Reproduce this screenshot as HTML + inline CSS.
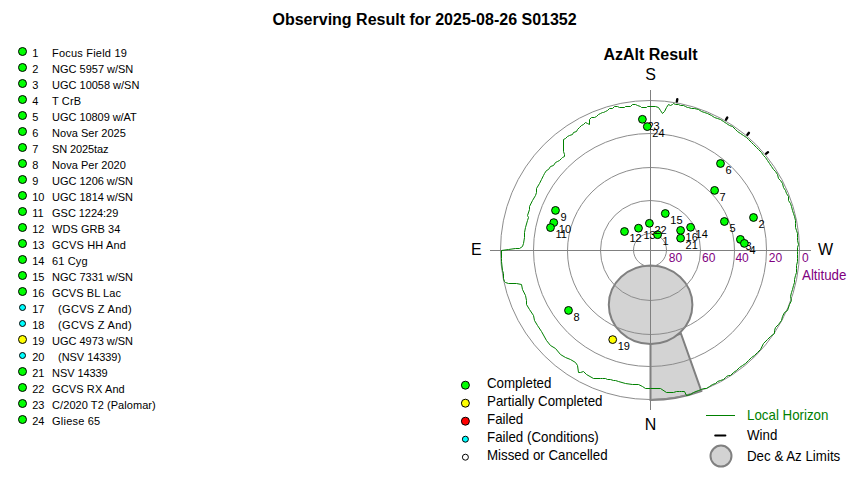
<!DOCTYPE html><html><head><meta charset="utf-8"><style>html,body{margin:0;padding:0;background:#fff;}svg{display:block;}text{font-family:"Liberation Sans",sans-serif;}</style></head><body>
<svg width="850" height="480" viewBox="0 0 850 480">
<rect width="850" height="480" fill="#fff"/>
<text x="272.5" y="25" font-size="16" font-weight="bold" fill="#000">Observing Result for 2025-08-26 S01352</text>
<circle cx="22.5" cy="51.5" r="4.0" fill="#00ff00" stroke="#000" stroke-width="1"/>
<text x="32.2" y="57" font-size="11" fill="#000">1</text>
<text x="52.1" y="57" font-size="11" letter-spacing="0.200" fill="#000">Focus Field 19</text>
<circle cx="22.5" cy="67.5" r="4.0" fill="#00ff00" stroke="#000" stroke-width="1"/>
<text x="32.2" y="73" font-size="11" fill="#000">2</text>
<text x="52.1" y="73" font-size="11" letter-spacing="-0.008" fill="#000">NGC 5957 w/SN</text>
<circle cx="22.5" cy="83.5" r="4.0" fill="#00ff00" stroke="#000" stroke-width="1"/>
<text x="32.2" y="89" font-size="11" fill="#000">3</text>
<text x="52.1" y="89" font-size="11" letter-spacing="-0.015" fill="#000">UGC 10058 w/SN</text>
<circle cx="22.5" cy="99.5" r="4.0" fill="#00ff00" stroke="#000" stroke-width="1"/>
<text x="32.2" y="105" font-size="11" fill="#000">4</text>
<text x="52.1" y="105" font-size="11" letter-spacing="0.100" fill="#000">T CrB</text>
<circle cx="22.5" cy="115.5" r="4.0" fill="#00ff00" stroke="#000" stroke-width="1"/>
<text x="32.2" y="121" font-size="11" fill="#000">5</text>
<text x="52.1" y="121" font-size="11" letter-spacing="-0.054" fill="#000">UGC 10809 w/AT</text>
<circle cx="22.5" cy="131.5" r="4.0" fill="#00ff00" stroke="#000" stroke-width="1"/>
<text x="32.2" y="137" font-size="11" fill="#000">6</text>
<text x="52.1" y="137" font-size="11" letter-spacing="0.033" fill="#000">Nova Ser 2025</text>
<circle cx="22.5" cy="147.5" r="4.0" fill="#00ff00" stroke="#000" stroke-width="1"/>
<text x="32.2" y="153" font-size="11" fill="#000">7</text>
<text x="52.1" y="153" font-size="11" letter-spacing="-0.133" fill="#000">SN 2025taz</text>
<circle cx="22.5" cy="163.5" r="4.0" fill="#00ff00" stroke="#000" stroke-width="1"/>
<text x="32.2" y="169" font-size="11" fill="#000">8</text>
<text x="52.1" y="169" font-size="11" letter-spacing="0.033" fill="#000">Nova Per 2020</text>
<circle cx="22.5" cy="179.5" r="4.0" fill="#00ff00" stroke="#000" stroke-width="1"/>
<text x="32.2" y="185" font-size="11" fill="#000">9</text>
<text x="52.1" y="185" font-size="11" letter-spacing="-0.033" fill="#000">UGC 1206 w/SN</text>
<circle cx="22.5" cy="195.5" r="4.0" fill="#00ff00" stroke="#000" stroke-width="1"/>
<text x="32.2" y="201" font-size="11" fill="#000">10</text>
<text x="52.1" y="201" font-size="11" letter-spacing="-0.033" fill="#000">UGC 1814 w/SN</text>
<circle cx="22.5" cy="211.5" r="4.0" fill="#00ff00" stroke="#000" stroke-width="1"/>
<text x="32.2" y="217" font-size="11" fill="#000">11</text>
<text x="52.1" y="217" font-size="11" letter-spacing="-0.050" fill="#000">GSC 1224:29</text>
<circle cx="22.5" cy="227.5" r="4.0" fill="#00ff00" stroke="#000" stroke-width="1"/>
<text x="32.2" y="233" font-size="11" fill="#000">12</text>
<text x="52.1" y="233" font-size="11" letter-spacing="0.044" fill="#000">WDS GRB 34</text>
<circle cx="22.5" cy="243.5" r="4.0" fill="#00ff00" stroke="#000" stroke-width="1"/>
<text x="32.2" y="249" font-size="11" fill="#000">13</text>
<text x="52.1" y="249" font-size="11" letter-spacing="0.170" fill="#000">GCVS HH And</text>
<circle cx="22.5" cy="259.5" r="4.0" fill="#00ff00" stroke="#000" stroke-width="1"/>
<text x="32.2" y="265" font-size="11" fill="#000">14</text>
<text x="52.1" y="265" font-size="11" letter-spacing="0.120" fill="#000">61 Cyg</text>
<circle cx="22.5" cy="275.5" r="4.0" fill="#00ff00" stroke="#000" stroke-width="1"/>
<text x="32.2" y="281" font-size="11" fill="#000">15</text>
<text x="52.1" y="281" font-size="11" letter-spacing="-0.033" fill="#000">NGC 7331 w/SN</text>
<circle cx="22.5" cy="291.5" r="4.0" fill="#00ff00" stroke="#000" stroke-width="1"/>
<text x="32.2" y="297" font-size="11" fill="#000">16</text>
<text x="52.1" y="297" font-size="11" letter-spacing="0.080" fill="#000">GCVS BL Lac</text>
<circle cx="22.5" cy="307.5" r="3.0" fill="#00ffff" stroke="#000" stroke-width="1"/>
<text x="32.2" y="313" font-size="11" fill="#000">17</text>
<text x="58.1" y="313" font-size="11" letter-spacing="0.300" fill="#000">(GCVS Z And)</text>
<circle cx="22.5" cy="323.5" r="3.0" fill="#00ffff" stroke="#000" stroke-width="1"/>
<text x="32.2" y="329" font-size="11" fill="#000">18</text>
<text x="58.1" y="329" font-size="11" letter-spacing="0.300" fill="#000">(GCVS Z And)</text>
<circle cx="22.5" cy="339.5" r="4.0" fill="#ffff00" stroke="#000" stroke-width="1"/>
<text x="32.2" y="345" font-size="11" fill="#000">19</text>
<text x="52.1" y="345" font-size="11" letter-spacing="-0.033" fill="#000">UGC 4973 w/SN</text>
<circle cx="22.5" cy="355.5" r="3.0" fill="#00ffff" stroke="#000" stroke-width="1"/>
<text x="32.2" y="361" font-size="11" fill="#000">20</text>
<text x="58.1" y="361" font-size="11" letter-spacing="-0.060" fill="#000">(NSV 14339)</text>
<circle cx="22.5" cy="371.5" r="4.0" fill="#00ff00" stroke="#000" stroke-width="1"/>
<text x="32.2" y="377" font-size="11" fill="#000">21</text>
<text x="52.1" y="377" font-size="11" letter-spacing="-0.088" fill="#000">NSV 14339</text>
<circle cx="22.5" cy="387.5" r="4.0" fill="#00ff00" stroke="#000" stroke-width="1"/>
<text x="32.2" y="393" font-size="11" fill="#000">22</text>
<text x="52.1" y="393" font-size="11" letter-spacing="0.110" fill="#000">GCVS RX And</text>
<circle cx="22.5" cy="403.5" r="4.0" fill="#00ff00" stroke="#000" stroke-width="1"/>
<text x="32.2" y="409" font-size="11" fill="#000">23</text>
<text x="52.1" y="409" font-size="11" letter-spacing="0.061" fill="#000">C/2020 T2 (Palomar)</text>
<circle cx="22.5" cy="419.5" r="4.0" fill="#00ff00" stroke="#000" stroke-width="1"/>
<text x="32.2" y="425" font-size="11" fill="#000">24</text>
<text x="52.1" y="425" font-size="11" letter-spacing="0.200" fill="#000">Gliese 65</text>
<text x="650.5" y="59.7" font-size="16" font-weight="bold" text-anchor="middle" fill="#000">AzAlt Result</text>
<path d="M650.5,344 L650.5,400 A150,150 0 0 0 701.3,391 L680.9,333.5 Z" fill="#d3d3d3" stroke="#808080" stroke-width="2"/>
<ellipse cx="650.6" cy="304.75" rx="41.8" ry="39.3" fill="#d3d3d3" stroke="#808080" stroke-width="2"/>
<circle cx="650" cy="250" r="16.5" fill="none" stroke="#8c8c8c" stroke-width="1"/>
<circle cx="650.5" cy="250.5" r="50" fill="none" stroke="#8c8c8c" stroke-width="1"/>
<circle cx="651" cy="251" r="83.5" fill="none" stroke="#8c8c8c" stroke-width="1"/>
<circle cx="650" cy="250" r="116.5" fill="none" stroke="#8c8c8c" stroke-width="1"/>
<circle cx="650" cy="250" r="149.5" fill="none" stroke="#8c8c8c" stroke-width="1"/>
<line x1="490" y1="250.5" x2="811" y2="250.5" stroke="#808080" stroke-width="1"/>
<line x1="650.5" y1="90" x2="650.5" y2="410" stroke="#808080" stroke-width="1"/>
<polyline fill="none" stroke="#008000" stroke-width="1" stroke-linejoin="round" points="501.5,250.5 501.5,258.5 501.5,261.5 502.5,270.5 503.5,273.5 503.5,278.5 504.5,281.5 505.5,282.5 508.5,283.5 516.5,283.5 521.5,284.5 522.5,289.5 525.5,295.5 526.5,300.5 526.5,304.5 529.5,309.5 533.5,315.5 534.5,320.5 537.5,325.5 541.5,331.5 546.5,340.5 550.5,345.5 555.5,348.5 560.5,354.5 565.5,357.5 570.5,359.5 575.5,362.5 577.5,365.5 578.5,372.5 580.5,372.5 583.5,371.5 586.5,374.5 593.5,378.5 600.5,378.5 602.5,378.5 605.5,378.5 607.5,379.5 610.5,379.5 613.5,380.5 615.5,380.5 618.5,381.5 625.5,383.5 632.5,384.5 638.5,384.5 642.5,386.5 645.5,388.5 650.5,388.5 660.5,388.5 666.5,392.5 673.5,392.5 676.5,391.5 679.5,391.5 681.5,391.5 684.5,391.5 686.5,395.5 690.5,394.5 693.5,392.5 698.5,390.5 701.5,389.5 703.5,388.5 706.5,388.5 709.5,386.5 712.5,384.5 715.5,383.5 717.5,381.5 720.5,380.5 723.5,379.5 725.5,377.5 726.5,376.5 728.5,375.5 730.5,375.5 733.5,372.5 736.5,370.5 739.5,367.5 742.5,365.5 745.5,363.5 748.5,360.5 751.5,357.5 754.5,355.5 757.5,352.5 760.5,349.5 763.5,343.5 767.5,339.5 770.5,336.5 774.5,333.5 774.5,330.5 775.5,327.5 778.5,324.5 781.5,320.5 782.5,316.5 784.5,312.5 787.5,310.5 789.5,304.5 791.5,300.5 790.5,296.5 791.5,292.5 792.5,289.5 793.5,285.5 794.5,282.5 794.5,279.5 795.5,275.5 796.5,272.5 796.5,268.5 796.5,265.5 797.5,261.5 797.5,258.5 797.5,254.5 797.5,251.5 797.5,247.5 798.5,244.5 797.5,240.5 797.5,237.5 797.5,233.5 796.5,230.5 795.5,227.5 795.5,223.5 795.5,220.5 794.5,216.5 793.5,213.5 792.5,210.5 791.5,206.5 790.5,203.5 788.5,200.5 788.5,196.5 786.5,193.5 785.5,190.5 783.5,187.5 782.5,183.5 780.5,180.5 778.5,178.5 777.5,174.5 775.5,171.5 773.5,169.5 771.5,166.5 769.5,163.5 767.5,160.5 765.5,157.5 763.5,155.5 761.5,152.5 758.5,149.5 756.5,147.5 753.5,144.5 751.5,142.5 748.5,139.5 746.5,137.5 743.5,135.5 740.5,133.5 737.5,131.5 735.5,129.5 732.5,126.5 729.5,125.5 726.5,123.5 723.5,121.5 720.5,119.5 717.5,118.5 714.5,117.5 711.5,115.5 707.5,113.5 704.5,112.5 701.5,111.5 698.5,109.5 694.5,108.5 691.5,108.5 688.5,107.5 687.5,107.5 685.5,106.5 683.5,105.5 680.5,105.5 678.5,104.5 675.5,104.5 673.5,103.5 672.5,104.5 670.5,105.5 668.5,104.5 666.5,107.5 664.5,111.5 662.5,113.5 660.5,110.5 658.5,107.5 655.5,106.5 647.5,106.5 646.5,107.5 641.5,107.5 640.5,106.5 637.5,105.5 635.5,104.5 632.5,104.5 630.5,106.5 625.5,106.5 624.5,107.5 619.5,107.5 617.5,106.5 614.5,106.5 612.5,108.5 609.5,108.5 607.5,110.5 605.5,111.5 603.5,112.5 602.5,112.5 600.5,113.5 598.5,114.5 596.5,116.5 594.5,117.5 591.5,117.5 589.5,119.5 589.5,124.5 587.5,123.5 585.5,122.5 583.5,124.5 581.5,125.5 579.5,127.5 577.5,129.5 576.5,131.5 573.5,132.5 572.5,134.5 569.5,135.5 567.5,136.5 565.5,138.5 563.5,139.5 563.5,151.5 564.5,154.5 564.5,156.5 562.5,157.5 561.5,158.5 559.5,160.5 557.5,161.5 555.5,162.5 553.5,165.5 550.5,166.5 548.5,169.5 546.5,170.5 544.5,173.5 543.5,175.5 541.5,179.5 539.5,183.5 536.5,188.5 536.5,192.5 535.5,195.5 532.5,200.5 529.5,206.5 529.5,209.5 527.5,215.5 528.5,217.5 527.5,220.5 525.5,227.5 524.5,232.5 524.5,237.5 523.5,243.5 522.5,246.5 519.5,248.5 515.5,248.5 508.5,249.5 501.5,250.5"/>
<line x1="676.87" y1="101.51" x2="677.30" y2="99.15" stroke="#000" stroke-width="2.4" stroke-linecap="round"/>
<line x1="726.03" y1="119.66" x2="727.24" y2="117.58" stroke="#000" stroke-width="2.4" stroke-linecap="round"/>
<line x1="747.37" y1="134.71" x2="748.91" y2="132.88" stroke="#000" stroke-width="2.4" stroke-linecap="round"/>
<line x1="766.17" y1="153.69" x2="768.02" y2="152.16" stroke="#000" stroke-width="2.4" stroke-linecap="round"/>
<text x="650.5" y="79.6" font-size="16" text-anchor="middle" fill="#000">S</text>
<text x="650.5" y="429.8" font-size="16" text-anchor="middle" fill="#000">N</text>
<text x="471" y="255" font-size="16" fill="#000">E</text>
<text x="818" y="254.6" font-size="16" fill="#000">W</text>
<text x="668.8" y="261.7" font-size="12" fill="#800080">80</text>
<text x="702.1" y="261.7" font-size="12" fill="#800080">60</text>
<text x="735.4" y="261.7" font-size="12" fill="#800080">40</text>
<text x="768.8" y="261.7" font-size="12" fill="#800080">20</text>
<text x="802.1" y="261.7" font-size="12" fill="#800080">0</text>
<text transform="translate(802,280.3) scale(1,1.08)" font-size="13.33" fill="#800080">Altitude</text>
<circle cx="753.5" cy="217.5" r="3.9" fill="#00ff00" stroke="#000" stroke-width="1"/>
<text x="758.5" y="228.0" font-size="11" fill="#000">2</text>
<circle cx="740.4" cy="239.4" r="3.9" fill="#00ff00" stroke="#000" stroke-width="1"/>
<text x="745.4" y="249.9" font-size="11" fill="#000">3</text>
<circle cx="744.4" cy="243.4" r="3.9" fill="#00ff00" stroke="#000" stroke-width="1"/>
<text x="749.4" y="253.9" font-size="11" fill="#000">4</text>
<circle cx="724.4" cy="221.5" r="3.9" fill="#00ff00" stroke="#000" stroke-width="1"/>
<text x="729.4" y="232.0" font-size="11" fill="#000">5</text>
<circle cx="720.5" cy="163.5" r="3.9" fill="#00ff00" stroke="#000" stroke-width="1"/>
<text x="725.5" y="174.0" font-size="11" fill="#000">6</text>
<circle cx="714.6" cy="190.4" r="3.9" fill="#00ff00" stroke="#000" stroke-width="1"/>
<text x="719.6" y="200.9" font-size="11" fill="#000">7</text>
<circle cx="568.5" cy="310.4" r="3.9" fill="#00ff00" stroke="#000" stroke-width="1"/>
<text x="573.5" y="320.9" font-size="11" fill="#000">8</text>
<circle cx="555.5" cy="210.4" r="3.9" fill="#00ff00" stroke="#000" stroke-width="1"/>
<text x="560.5" y="220.9" font-size="11" fill="#000">9</text>
<circle cx="553.75" cy="222.6" r="3.9" fill="#00ff00" stroke="#000" stroke-width="1"/>
<text x="558.8" y="233.1" font-size="11" fill="#000">10</text>
<circle cx="550.5" cy="227.6" r="3.9" fill="#00ff00" stroke="#000" stroke-width="1"/>
<text x="555.5" y="238.1" font-size="11" fill="#000">11</text>
<circle cx="624.5" cy="231.5" r="3.9" fill="#00ff00" stroke="#000" stroke-width="1"/>
<text x="629.5" y="242.0" font-size="11" fill="#000">12</text>
<circle cx="638.5" cy="228.2" r="3.9" fill="#00ff00" stroke="#000" stroke-width="1"/>
<text x="643.5" y="238.7" font-size="11" fill="#000">13</text>
<circle cx="690.6" cy="227.3" r="3.9" fill="#00ff00" stroke="#000" stroke-width="1"/>
<text x="695.6" y="237.8" font-size="11" fill="#000">14</text>
<circle cx="665.3" cy="213.5" r="3.9" fill="#00ff00" stroke="#000" stroke-width="1"/>
<text x="670.3" y="224.0" font-size="11" fill="#000">15</text>
<circle cx="680.6" cy="230.4" r="3.9" fill="#00ff00" stroke="#000" stroke-width="1"/>
<text x="685.6" y="240.9" font-size="11" fill="#000">16</text>
<circle cx="612.7" cy="339.6" r="3.9" fill="#ffff00" stroke="#000" stroke-width="1"/>
<text x="617.7" y="350.1" font-size="11" fill="#000">19</text>
<circle cx="680.6" cy="238.2" r="3.9" fill="#00ff00" stroke="#000" stroke-width="1"/>
<text x="685.6" y="248.7" font-size="11" fill="#000">21</text>
<circle cx="657.6" cy="234.7" r="3.9" fill="#00ff00" stroke="#000" stroke-width="1"/>
<text x="662.6" y="245.2" font-size="11" fill="#000">1</text>
<circle cx="649.4" cy="223.3" r="3.9" fill="#00ff00" stroke="#000" stroke-width="1"/>
<text x="654.4" y="233.8" font-size="11" fill="#000">22</text>
<circle cx="642.4" cy="119.3" r="3.9" fill="#00ff00" stroke="#000" stroke-width="1"/>
<text x="647.4" y="129.8" font-size="11" fill="#000">23</text>
<circle cx="647.3" cy="126.6" r="3.9" fill="#00ff00" stroke="#000" stroke-width="1"/>
<text x="652.3" y="137.1" font-size="11" fill="#000">24</text>
<circle cx="465.4" cy="385.2" r="4.0" fill="#00ff00" stroke="#000" stroke-width="1"/>
<text transform="translate(487,388.3) scale(1,1.08)" font-size="13.33" fill="#000">Completed</text>
<circle cx="465.4" cy="403.2" r="4.0" fill="#ffff00" stroke="#000" stroke-width="1"/>
<text transform="translate(487,406.3) scale(1,1.08)" font-size="13.33" fill="#000">Partially Completed</text>
<circle cx="465.4" cy="421.2" r="4.0" fill="#ff0000" stroke="#000" stroke-width="1"/>
<text transform="translate(487,424.3) scale(1,1.08)" font-size="13.33" fill="#000">Failed</text>
<circle cx="465.4" cy="439.2" r="3.0" fill="#00ffff" stroke="#000" stroke-width="1"/>
<text transform="translate(487,442.3) scale(1,1.08)" font-size="13.33" fill="#000">Failed (Conditions)</text>
<circle cx="465.4" cy="457.2" r="3.0" fill="#ffffff" stroke="#000" stroke-width="1"/>
<text transform="translate(487,460.3) scale(1,1.08)" font-size="13.33" fill="#000">Missed or Cancelled</text>
<line x1="706" y1="415.5" x2="735" y2="415.5" stroke="#008000" stroke-width="1"/>
<text transform="translate(747,419.8) scale(1,1.08)" font-size="13.33" fill="#008000">Local Horizon</text>
<line x1="715.2" y1="435.5" x2="725.4" y2="435.5" stroke="#000" stroke-width="2" stroke-linecap="round"/>
<text transform="translate(747,439.7) scale(1,1.08)" font-size="13.33" fill="#000">Wind</text>
<circle cx="721" cy="456.1" r="10.5" fill="#d3d3d3" stroke="#808080" stroke-width="2"/>
<text transform="translate(747,460.9) scale(1,1.08)" font-size="13.33" fill="#000">Dec &amp; Az Limits</text>
</svg></body></html>
